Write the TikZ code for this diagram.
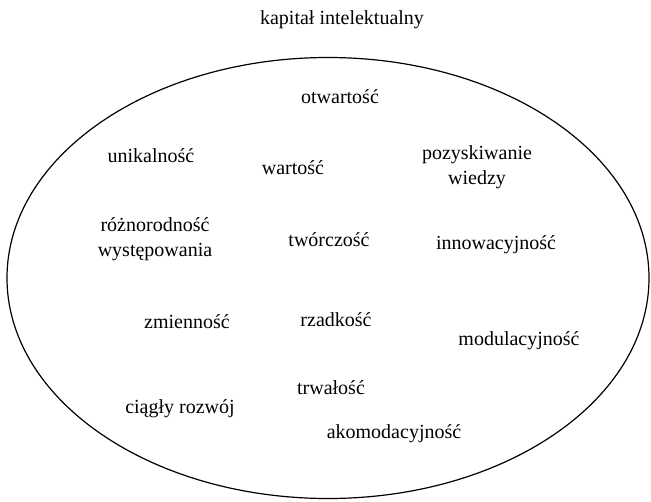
\documentclass[tikz,border=0pt]{standalone}
\usepackage{fontspec}
\setmainfont{Liberation Serif}
\usepackage{tikz}
\usetikzlibrary{shapes}

\tikzset{
  cecha/.style={align=center, inner sep=0pt, font=\fontsize{20}{25}\selectfont}
}

\begin{document}
\begin{tikzpicture}[x=1pt, y=1pt]
  \useasboundingbox (0,0) rectangle (651,-501);
  \node[cecha] (tytul) at (342,-20) {kapitał intelektualny};
  \node[draw, ellipse, minimum width=642pt, minimum height=441pt, line width=1.2pt] (zbior) at (328,-278) {};
  \node[cecha] (otw) at (340,-97) {otwartość};
  \node[cecha] (unik) at (151,-156) {unikalność};
  \node[cecha] (wart) at (293,-168) {wartość};
  \node[cecha] (pozysk) at (477,-167) {pozyskiwanie\\wiedzy};
  \node[cecha] (rozn) at (155,-239) {różnorodność\\występowania};
  \node[cecha] (tworcz) at (329,-240) {twórczość};
  \node[cecha] (innow) at (496,-245) {innowacyjność};
  \node[cecha] (zmien) at (187,-322) {zmienność};
  \node[cecha] (rzadk) at (336,-320) {rzadkość};
  \node[cecha] (modul) at (519,-341) {modulacyjność};
  \node[cecha] (trwal) at (331,-388) {trwałość};
  \node[cecha] (rozwoj) at (180,-409) {ciągły rozwój};
  \node[cecha] (akomod) at (394,-434) {akomodacyjność};
\end{tikzpicture}
\end{document}
